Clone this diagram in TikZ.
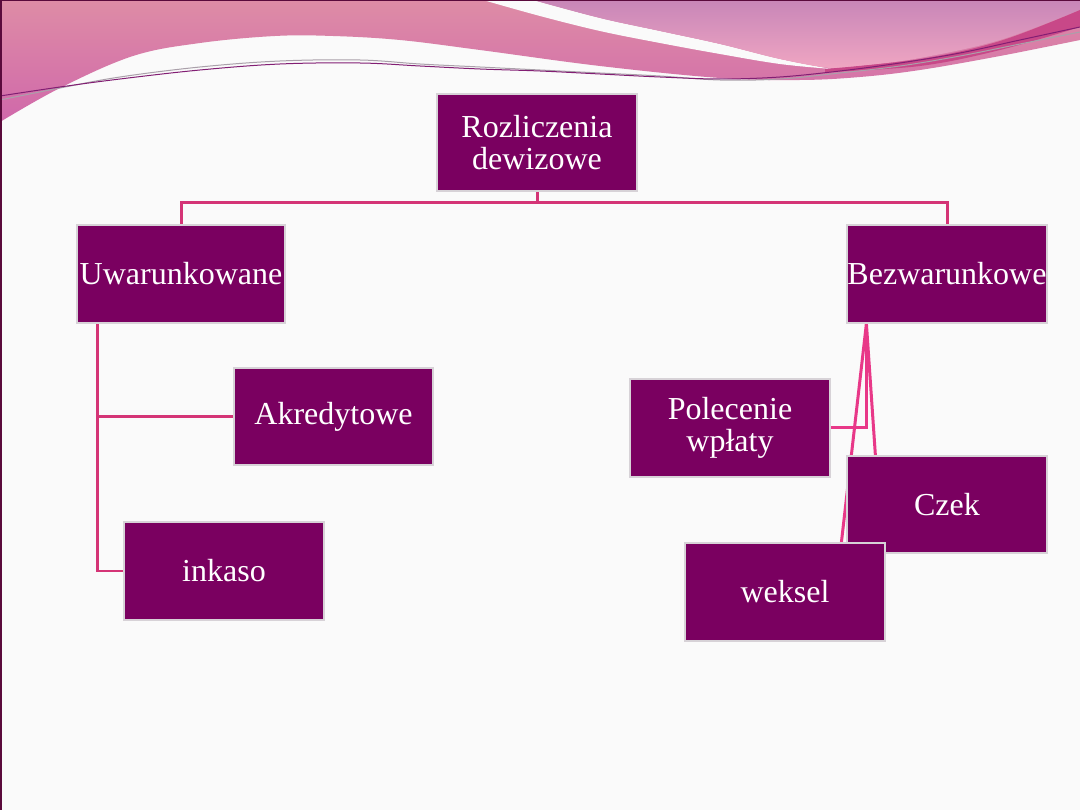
\documentclass[tikz,border=0pt]{standalone}
\usepackage{fontspec}
\setmainfont{Liberation Serif}
\usetikzlibrary{calc}
\definecolor{bgc}{RGB}{250,250,250}
\definecolor{boxc}{RGB}{122,0,96}
\definecolor{boxedge}{RGB}{215,210,215}
\definecolor{linkA}{RGB}{212,52,118}
\definecolor{linkB}{RGB}{232,56,136}
\definecolor{pinkTop}{RGB}{222,140,166}
\definecolor{pinkBot}{RGB}{208,104,170}
\definecolor{mauveTop}{RGB}{200,134,184}
\definecolor{mauveBot}{RGB}{240,166,194}
\definecolor{stripe}{RGB}{200,72,136}
\definecolor{frame}{RGB}{90,10,60}
\definecolor{waveline}{RGB}{130,30,115}
\definecolor{wavegray}{RGB}{170,160,170}
\pgfdeclarelayer{back}
\pgfdeclarelayer{conn}
\pgfsetlayers{back,conn,main}
\tikzset{
  box/.style={rectangle, fill=boxc, draw=boxedge, line width=1.2pt, inner sep=0pt,
    text=white, align=center, font=\fontsize{32}{32}\selectfont},
  linkt/.style={draw=linkA, line width=3pt},
  linkr/.style={draw=linkB, line width=3pt},
}
\begin{document}
\begin{tikzpicture}[x=1pt,y=-1pt]
\useasboundingbox (0,0) rectangle (1080,810);
\begin{pgfonlayer}{back}
\fill[bgc] (0,0) rectangle (1080,810);
% lower pink band
\shade[top color=pinkTop, bottom color=pinkBot]
  (0,0) -- (1080,0) --
  plot[smooth, tension=0.6] coordinates {(1080,40) (1000,56) (920,70) (860,77) (800,80) (720,78) (600,66) (480,50) (400,40) (333,36) (275,36) (200,43) (133,56) (60,88) (0,122)}
  -- cycle;
% white swath
\fill[bgc] plot[smooth, tension=0.6] coordinates {(483,0) (540,16) (600,31) (660,43) (720,54) (780,64) (832,69)}
  -- plot[smooth, tension=0.6] coordinates {(832,69) (780,59) (720,44) (660,31) (600,18) (533,0)} -- cycle;
% mauve shape
\shade[top color=mauveTop, bottom color=mauveBot]
  (533,0) -- (1080,0) --
  plot[smooth, tension=0.6] coordinates {(1080,10) (1000,40) (920,58) (860,66) (830,68) (780,59) (720,44) (660,31) (600,18) (533,0)} -- cycle;
% dark stripe
\fill[stripe] plot[smooth, tension=0.6] coordinates {(825,69) (920,59) (1000,41) (1080,10)}
  -- plot[smooth, tension=0.6] coordinates {(1080,27) (1000,50) (920,66) (825,72)} -- cycle;
% thin wave lines
\draw[wavegray, line width=1pt] plot[smooth, tension=0.6] coordinates {(0,100) (60,88) (120,77) (200,67) (280,61) (360,60) (420,64) (480,67) (540,70) (600,73) (660,76) (720,80) (780,79) (840,73) (900,66) (960,56) (1020,44) (1080,32)};
\draw[waveline, line width=1pt] plot[smooth, tension=0.6] coordinates {(0,96) (60,87) (120,79) (200,70) (280,64) (360,63) (420,66) (480,69) (540,71) (600,74) (660,77) (720,79) (780,77) (840,71) (900,63) (960,53) (1020,40) (1080,27)};
% frame edges
\fill[frame] (0,0) rectangle (1080,1.5);
\fill[frame] (0,0) rectangle (1.5,810);
\end{pgfonlayer}

\node[box, minimum width=200pt, minimum height=97pt] (root) at (537,142.5) {Rozliczenia\\dewizowe};
\node[box, minimum width=208pt, minimum height=98pt] (uw) at (181,274) {Uwarunkowane};
\node[box, minimum width=200pt, minimum height=98pt] (bez) at (947,274) {Bezwarunkowe};
\node[box, minimum width=199pt, minimum height=97pt] (akr) at (333.5,416.5) {Akredytowe};
\node[box, minimum width=200pt, minimum height=98pt] (ink) at (224,571) {inkaso};
\node[box, minimum width=200pt, minimum height=98pt] (pol) at (730,428) {Polecenie\\wpłaty};
\node[box, minimum width=200pt, minimum height=97pt] (czek) at (947,504.5) {Czek};
\node[box, minimum width=200pt, minimum height=98pt] (wek) at (785,592) {weksel};

\coordinate (bs) at ([xshift=20pt]bez.south west);
\coordinate (us) at ([xshift=21pt]uw.south west);
\begin{pgfonlayer}{conn}
\draw[linkt] (root.south) -- ++(0,11) -| (uw.north);
\draw[linkt] (root.south) -- ++(0,11) -| (bez.north);
\draw[linkt, line width=2.5pt] (us) |- (akr.west);
\draw[linkt, line width=2.5pt] (us) |- (ink.west);
\draw[linkr] (bs) |- (pol.east);
\draw[linkr] (bs) -- ([xshift=29pt]czek.north west);
\draw[linkr] (bs) -- ([xshift=157pt]wek.north west);
\end{pgfonlayer}
\end{tikzpicture}
\end{document}
